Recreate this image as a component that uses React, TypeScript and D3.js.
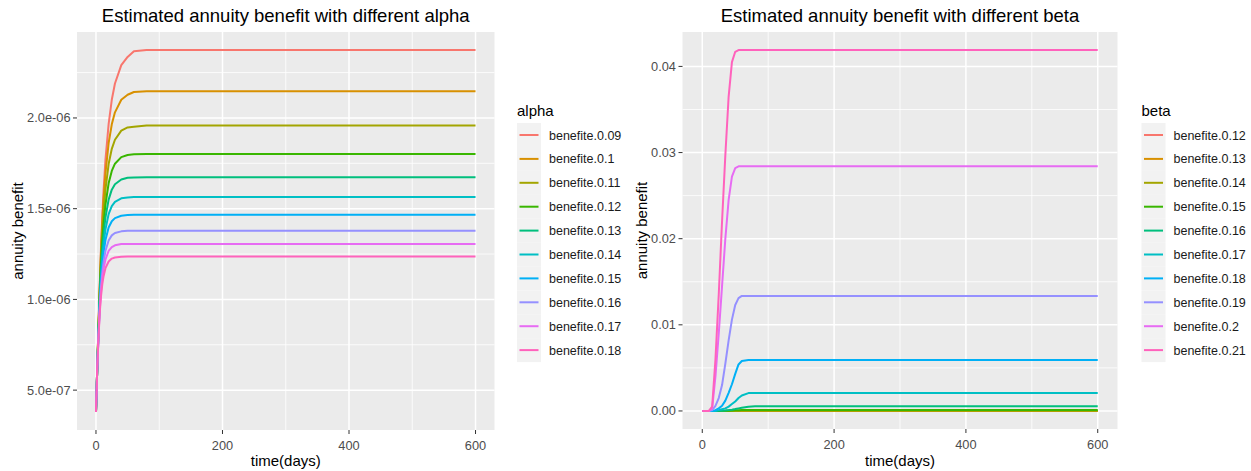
import React from "react";
import * as d3 from "d3";

// ---------- data: alpha panel (values in units of 1e-6) ----------
const alphaTimes = [0, 2, 4, 6, 8, 10, 12, 15, 20, 25, 30, 40, 50, 60, 80, 600];
const alphaLabels = [
  "benefite.0.09", "benefite.0.1", "benefite.0.11", "benefite.0.12", "benefite.0.13",
  "benefite.0.14", "benefite.0.15", "benefite.0.16", "benefite.0.17", "benefite.0.18",
];
const alpha009 = [0.38, 0.62, 0.86, 1.08, 1.29, 1.46, 1.6, 1.77, 1.966, 2.1, 2.19, 2.291, 2.336, 2.368, 2.374, 2.374];
const alpha010 = [0.38, 0.62, 0.86, 1.07, 1.27, 1.43, 1.553, 1.695, 1.861, 1.965, 2.031, 2.1, 2.128, 2.143, 2.147, 2.147];
const alpha011 = [0.38, 0.62, 0.85, 1.06, 1.24, 1.378, 1.484, 1.607, 1.746, 1.83, 1.88, 1.93, 1.948, 1.952, 1.959, 1.959];
const alpha012 = [0.38, 0.62, 0.84, 1.04, 1.2, 1.323, 1.417, 1.523, 1.64, 1.708, 1.748, 1.784, 1.796, 1.8, 1.802, 1.802];
const alpha013 = [0.38, 0.62, 0.83, 1.02, 1.168, 1.274, 1.358, 1.452, 1.55, 1.605, 1.635, 1.661, 1.67, 1.672, 1.673, 1.673];
const alpha014 = [0.38, 0.62, 0.82, 1.0, 1.134, 1.23, 1.305, 1.386, 1.47, 1.514, 1.537, 1.557, 1.562, 1.564, 1.564, 1.564];
const alpha015 = [0.38, 0.62, 0.81, 0.98, 1.103, 1.19, 1.256, 1.327, 1.396, 1.431, 1.448, 1.461, 1.465, 1.466, 1.466, 1.466];
const alpha016 = [0.38, 0.62, 0.8, 0.96, 1.071, 1.149, 1.207, 1.268, 1.325, 1.353, 1.366, 1.375, 1.378, 1.378, 1.378, 1.378];
const alpha017 = [0.38, 0.62, 0.8, 0.945, 1.046, 1.116, 1.168, 1.22, 1.267, 1.288, 1.298, 1.305, 1.306, 1.306, 1.306, 1.306];
const alpha018 = [0.38, 0.62, 0.79, 0.93, 1.02, 1.084, 1.128, 1.172, 1.209, 1.225, 1.231, 1.235, 1.236, 1.236, 1.236, 1.236];
const alphaUnit = 1e-6;
const alphaYTicks = [0.5e-6, 1.0e-6, 1.5e-6, 2.0e-6];
const alphaYTickLabels = ["5.0e-07", "1.0e-06", "1.5e-06", "2.0e-06"];

// ---------- data: beta panel ----------
const betaTimes = [0, 10, 15, 20, 25, 30, 35, 40, 45, 50, 55, 60, 70, 80, 600];
const betaLabels = [
  "benefite.0.12", "benefite.0.13", "benefite.0.14", "benefite.0.15", "benefite.0.16",
  "benefite.0.17", "benefite.0.18", "benefite.0.19", "benefite.0.2", "benefite.0.21",
];
const beta012 = [0, 0, 0, 0, 0, 0, 0, 0, 0, 0, 0, 0, 0, 0, 0];
const beta013 = [0, 0, 0, 0, 0, 0, 0, 0, 0, 0, 0.000002, 0.000004, 0.000005, 0.000005, 0.000005];
const beta014 = [0, 0, 0, 0, 0, 0, 0, 0, 0, 0.00001, 0.00002, 0.00003, 0.00003, 0.00003, 0.00003];
const beta015 = [0, 0, 0, 0, 0, 0.00001, 0.00002, 0.00003, 0.00005, 0.00007, 0.00009, 0.0001, 0.00012, 0.00012, 0.00012];
const beta016 = [0, 0, 0, 0, 0.00001, 0.00003, 0.00006, 0.0001, 0.00015, 0.00022, 0.0003, 0.00038, 0.0005, 0.00054, 0.00054];
const beta017 = [0, 0, 0, 0, 0.0001, 0.0002, 0.0003, 0.0005, 0.0008, 0.0011, 0.0015, 0.0018, 0.00207, 0.00209, 0.00209];
const beta018 = [0, 0, 0, 0.0001, 0.0003, 0.0006, 0.0012, 0.0021, 0.0031, 0.0043, 0.0054, 0.0058, 0.00591, 0.00591, 0.00591];
const beta019 = [0, 0, 0.0001, 0.0006, 0.0015, 0.003, 0.0055, 0.0082, 0.0106, 0.0123, 0.0131, 0.01336, 0.01336, 0.01336, 0.01336];
const beta020 = [0, 0, 0.0003, 0.004, 0.009, 0.0145, 0.02, 0.0245, 0.0272, 0.0282, 0.0284, 0.0284, 0.0284, 0.0284, 0.0284];
const beta021 = [0, 0, 0.0005, 0.006, 0.0135, 0.022, 0.0297, 0.0365, 0.0405, 0.0417, 0.0419, 0.0419, 0.0419, 0.0419, 0.0419];
const betaYTicks = [0, 0.01, 0.02, 0.03, 0.04];
const betaYTickLabels = ["0.00", "0.01", "0.02", "0.03", "0.04"];

const xTicks = [0, 200, 400, 600];
const xMinor = [100, 300, 500];
const palette = ["#F8766D", "#D89000", "#A3A500", "#39B600", "#00BF7D", "#00BFC4", "#00B0F6", "#9590FF", "#E76BF3", "#FF62BC"];

const FONT = "'Liberation Sans', Arial, sans-serif";

type PanelProps = {
  title: string;
  legendTitle: string;
  labels: string[];
  times: number[];
  series: number[][];
  unit: number;
  yTicks: number[];
  yTickLabels: string[];
  box: { x0: number; x1: number; y0: number; y1: number };
  yTitleX: number;
  legendX: number;
};

function Panel(p: PanelProps) {
  const { box } = p;
  const xs = d3.scaleLinear().domain([-30, 630]).range([box.x0, box.x1]);
  const all = p.series.flat().map((v) => v * p.unit);
  const lo = d3.min(all) as number;
  const hi = d3.max(all) as number;
  const pad = (hi - lo) * 0.05;
  const ys = d3.scaleLinear().domain([lo - pad, hi + pad]).range([box.y1, box.y0]);
  const yMinor: number[] = [];
  const step = p.yTicks[1] - p.yTicks[0];
  for (let i = 0; i < p.yTicks.length + 1; i++) {
    const v = p.yTicks[0] - step / 2 + i * step;
    if (v > lo - pad && v < hi + pad) yMinor.push(v);
  }
  const line = d3
    .line<number>()
    .x((_, i) => xs(p.times[i]))
    .y((v) => ys(v * p.unit));
  const cx = (box.x0 + box.x1) / 2;
  const cy = (box.y0 + box.y1) / 2;
  return (
    <g fontFamily={FONT}>
      <text x={cx} y={21.5} textAnchor="middle" fontSize={18.5} fill="#000">
        {p.title}
      </text>
      <rect x={box.x0} y={box.y0} width={box.x1 - box.x0} height={box.y1 - box.y0} fill="#EBEBEB" />
      {xMinor.map((t) => (
        <line key={"xm" + t} x1={xs(t)} x2={xs(t)} y1={box.y0} y2={box.y1} stroke="#fff" strokeWidth={0.8} />
      ))}
      {yMinor.map((t, i) => (
        <line key={"ym" + i} x1={box.x0} x2={box.x1} y1={ys(t)} y2={ys(t)} stroke="#fff" strokeWidth={0.8} />
      ))}
      {xTicks.map((t) => (
        <line key={"xM" + t} x1={xs(t)} x2={xs(t)} y1={box.y0} y2={box.y1} stroke="#fff" strokeWidth={1.5} />
      ))}
      {p.yTicks.map((t, i) => (
        <line key={"yM" + i} x1={box.x0} x2={box.x1} y1={ys(t)} y2={ys(t)} stroke="#fff" strokeWidth={1.5} />
      ))}
      {p.series.map((s, i) => (
        <path key={"s" + i} d={line(s) as string} fill="none" stroke={palette[i]} strokeWidth={2} strokeLinejoin="round" />
      ))}
      {xTicks.map((t) => (
        <g key={"xt" + t}>
          <line x1={xs(t)} x2={xs(t)} y1={box.y1} y2={box.y1 + 4} stroke="#333" strokeWidth={1} />
          <text x={xs(t)} y={box.y1 + 19.5} textAnchor="middle" fontSize={12.8} fill="#4D4D4D">
            {t}
          </text>
        </g>
      ))}
      {p.yTicks.map((t, i) => (
        <g key={"yt" + i}>
          <line x1={box.x0 - 4} x2={box.x0} y1={ys(t)} y2={ys(t)} stroke="#333" strokeWidth={1} />
          <text x={box.x0 - 6.5} y={ys(t) + 4.5} textAnchor="end" fontSize={12.8} fill="#4D4D4D">
            {p.yTickLabels[i]}
          </text>
        </g>
      ))}
      <text x={cx} y={466} textAnchor="middle" fontSize={15} fill="#000">
        time(days)
      </text>
      <text
        transform={`translate(${p.yTitleX},${cy}) rotate(-90)`}
        textAnchor="middle"
        fontSize={15}
        fill="#000"
      >
        annuity benefit
      </text>
      <g>
        <text x={p.legendX} y={116} fontSize={15} fill="#000">
          {p.legendTitle}
        </text>
        {p.labels.map((lab, i) => {
          const yc = 135 + i * 23.9;
          return (
            <g key={"lg" + i}>
              <rect x={p.legendX} y={yc - 12} width={24} height={24} fill="#F2F2F2" />
              <line x1={p.legendX + 2.5} x2={p.legendX + 21.5} y1={yc} y2={yc} stroke={palette[i]} strokeWidth={2} />
              <text x={p.legendX + 32} y={yc + 4.5} fontSize={12.5} fill="#1A1A1A">
                {lab}
              </text>
            </g>
          );
        })}
      </g>
    </g>
  );
}

export default function App() {
  return (
    <svg
      width={1251}
      height={471}
      style={{ position: "absolute", left: 0, top: 0, background: "#fff" }}
    >
      <rect width={1251} height={471} fill="#fff" />
      <Panel
        title="Estimated annuity benefit with different alpha"
        legendTitle="alpha"
        labels={alphaLabels}
        times={alphaTimes}
        series={[alpha009, alpha010, alpha011, alpha012, alpha013, alpha014, alpha015, alpha016, alpha017, alpha018]}
        unit={alphaUnit}
        yTicks={alphaYTicks}
        yTickLabels={alphaYTickLabels}
        box={{ x0: 77, x1: 494.5, y0: 32, y1: 430 }}
        yTitleX={23}
        legendX={517}
      />
      <Panel
        title="Estimated annuity benefit with different beta"
        legendTitle="beta"
        labels={betaLabels}
        times={betaTimes}
        series={[beta012, beta013, beta014, beta015, beta016, beta017, beta018, beta019, beta020, beta021]}
        unit={1}
        yTicks={betaYTicks}
        yTickLabels={betaYTickLabels}
        box={{ x0: 682.5, x1: 1117.5, y0: 32, y1: 429 }}
        yTitleX={647}
        legendX={1141.5}
      />
    </svg>
  );
}
